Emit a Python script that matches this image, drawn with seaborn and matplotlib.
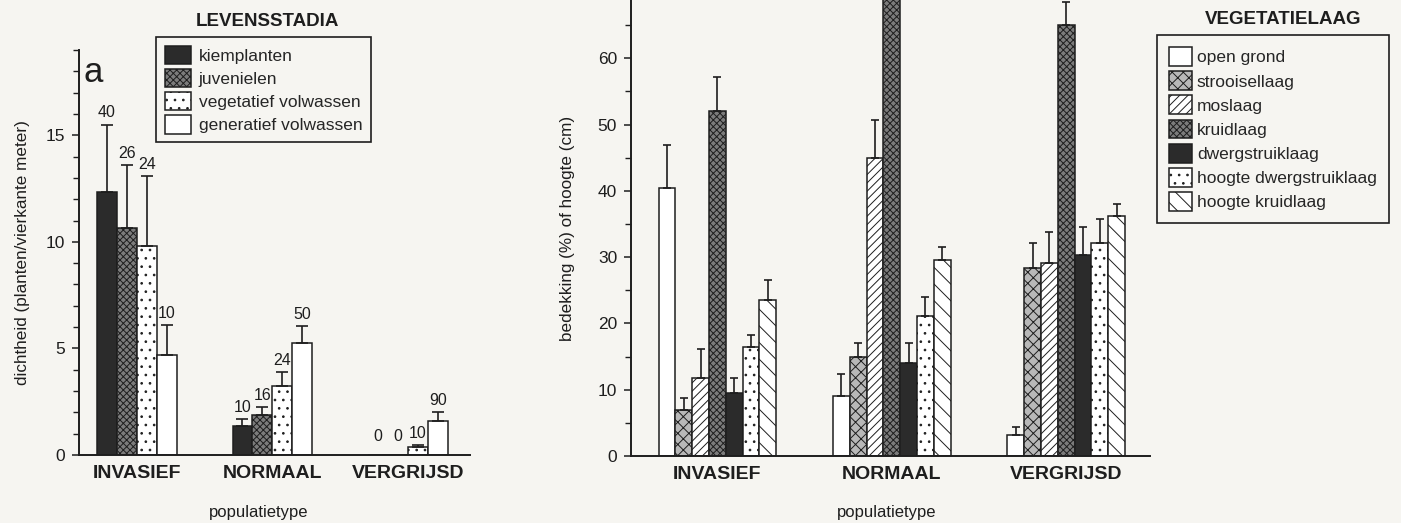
import numpy as np
import pandas as pd
import matplotlib
matplotlib.use("Agg")
import matplotlib.pyplot as plt
from matplotlib.ticker import MultipleLocator
import seaborn as sns

# ---------------- data ----------------
populaties = ["INVASIEF", "NORMAAL", "VERGRIJSD"]

# panel a: density per life stage
stadia = ["kiemplanten", "juvenielen", "vegetatief volwassen", "generatief volwassen"]
dichtheid = {
    "kiemplanten":          [12.35, 1.36, 0.0],
    "juvenielen":           [10.67, 1.88, 0.0],
    "vegetatief volwassen": [9.80, 3.25, 0.37],
    "generatief volwassen": [4.70, 5.27, 1.60],
}
dichtheid_se = {
    "kiemplanten":          [3.15, 0.34, 0.0],
    "juvenielen":           [2.93, 0.37, 0.0],
    "vegetatief volwassen": [3.30, 0.65, 0.08],
    "generatief volwassen": [1.40, 0.76, 0.40],
}
aantal_n = {
    "kiemplanten":          [40, 10, 0],
    "juvenielen":           [26, 16, 0],
    "vegetatief volwassen": [24, 24, 10],
    "generatief volwassen": [10, 50, 90],
}

# panel b: cover (%) or height (cm) per vegetation layer
lagen = ["open grond", "strooisellaag", "moslaag", "kruidlaag",
         "dwergstruiklaag", "hoogte dwergstruiklaag", "hoogte kruidlaag"]
bedekking = {
    "open grond":             [40.4, 9.1, 3.2],
    "strooisellaag":          [6.9, 15.0, 28.4],
    "moslaag":                [11.8, 44.9, 29.1],
    "kruidlaag":              [52.0, 78.0, 65.0],
    "dwergstruiklaag":        [9.5, 14.0, 30.4],
    "hoogte dwergstruiklaag": [16.5, 21.1, 32.1],
    "hoogte kruidlaag":       [23.5, 29.6, 36.2],
}
bedekking_se = {
    "open grond":             [6.5, 3.3, 1.2],
    "strooisellaag":          [1.8, 2.0, 3.7],
    "moslaag":                [4.4, 5.8, 4.7],
    "kruidlaag":              [5.2, 5.0, 3.5],
    "dwergstruiklaag":        [2.3, 3.0, 4.2],
    "hoogte dwergstruiklaag": [1.8, 2.9, 3.7],
    "hoogte kruidlaag":       [3.1, 2.0, 1.8],
}

# ---------------- styling ----------------
sns.set_style("ticks")
plt.rcParams["font.family"] = ["Liberation Sans", "DejaVu Sans"]
plt.rcParams["hatch.linewidth"] = 0.7
PAPER = "#f6f5f1"
INK = "#1e1e1e"

stadia_style = {
    "kiemplanten":          ("#2b2b2b", ""),
    "juvenielen":           ("#7c7c7c", "xxxxx"),
    "vegetatief volwassen": ("white", ".."),
    "generatief volwassen": ("white", ""),
}
lagen_style = {
    "open grond":             ("white", ""),
    "strooisellaag":          ("#b8b8b8", "xxx"),
    "moslaag":                ("white", "////"),
    "kruidlaag":              ("#7c7c7c", "xxxxx"),
    "dwergstruiklaag":        ("#2b2b2b", ""),
    "hoogte dwergstruiklaag": ("white", ".."),
    "hoogte kruidlaag":       ("white", "\\\\"),
}


def long_table(values, errors, order):
    rows = []
    for name in order:
        for pop, v, e in zip(populaties, values[name], errors[name]):
            rows.append({"populatietype": pop, "groep": name, "waarde": v, "se": e})
    return pd.DataFrame(rows)


def draw_panel(ax, df, order, style, width, capsize):
    sns.barplot(data=df, x="populatietype", y="waarde", hue="groep",
                order=populaties, hue_order=order,
                palette={k: style[k][0] for k in order},
                width=width, edgecolor=INK, linewidth=1.1,
                errorbar=None, legend=False, saturation=1, ax=ax)
    for name, cont in zip(order, ax.containers):
        face, hatch = style[name]
        sub = df[df["groep"] == name]
        xs, ys, es = [], [], []
        for patch, v, e in zip(cont.patches, sub["waarde"], sub["se"]):
            patch.set_facecolor(face)
            patch.set_hatch(hatch)
            patch.set_edgecolor(INK)
            if e > 0:
                xs.append(patch.get_x() + patch.get_width() / 2)
                ys.append(v)
                es.append(e)
        if xs:
            ax.errorbar(xs, ys, yerr=[np.zeros(len(es)), es], fmt="none",
                        ecolor=INK, elinewidth=1.2, capsize=capsize,
                        capthick=1.2, zorder=1)
    ax.set_facecolor("none")
    sns.despine(ax=ax)
    for side in ("left", "bottom"):
        ax.spines[side].set_linewidth(1.4)
        ax.spines[side].set_color(INK)
    ax.tick_params(axis="x", length=0, pad=7, labelsize=14)
    for lab in ax.get_xticklabels():
        lab.set_fontweight("bold")
        lab.set_color(INK)
    ax.tick_params(axis="y", which="major", length=5, width=1.1,
                   labelsize=12.5, colors=INK, pad=5)
    ax.tick_params(axis="y", which="minor", length=4, width=1.0, colors=INK)


fig = plt.figure(figsize=(14.01, 5.23), dpi=100, facecolor=PAPER)
W, H = 1401, 523

# ---------- panel a ----------
axa = fig.add_axes([79 / W, (H - 455) / H, (470 - 79) / W, (455 - 50) / H])
df_a = long_table(dichtheid, dichtheid_se, stadia)
draw_panel(axa, df_a, stadia, stadia_style, 0.59, 4.3)
axa.set_ylim(0, 19)
axa.set_xlim(-0.428, 2.458)
axa.yaxis.set_major_locator(MultipleLocator(5))
axa.yaxis.set_minor_locator(MultipleLocator(1))
axa.set_ylabel("dichtheid (planten/vierkante meter)", fontsize=12.3, color=INK)
axa.set_xlabel("populatietype", fontsize=12, color=INK)
axa.yaxis.set_label_coords(-0.125, 0.5)
axa.xaxis.set_label_coords(0.46, -0.123)

# sample sizes above the bars
for name, cont in zip(stadia, axa.containers):
    for patch, v, e, n in zip(cont.patches, dichtheid[name], dichtheid_se[name], aantal_n[name]):
        axa.annotate(str(n), (patch.get_x() + patch.get_width() / 2, v + e),
                     xytext=(0, 3 if v + e > 0 else 8), textcoords="offset points",
                     ha="center", va="bottom", fontsize=11.5, color=INK)

axa.text(0.012, 0.985, "a", transform=axa.transAxes, ha="left", va="top",
         fontsize=25, color=INK)

leg_a = axa.legend(axa.containers, stadia, loc="upper left",
                   bbox_to_anchor=(156 / W, 1 - 37 / H), bbox_transform=fig.transFigure,
                   borderaxespad=0, fontsize=12.5, frameon=True, fancybox=False,
                   edgecolor=INK, framealpha=1, facecolor=PAPER,
                   handlelength=1.5, handleheight=1.25, handletextpad=0.45,
                   labelspacing=0.28, borderpad=0.5)
leg_a.get_frame().set_linewidth(1.2)
fig.text(267 / W, 1 - 22 / H, "LEVENSSTADIA", ha="center", va="center",
         fontsize=13.5, fontweight="bold", color=INK)

# ---------- panel b ----------
axb = fig.add_axes([631 / W, (H - 456) / H, (1150 - 631) / W, 456 / H])
df_b = long_table(bedekking, bedekking_se, lagen)
draw_panel(axb, df_b, lagen, lagen_style, 0.675, 3.2)
axb.set_ylim(0, 68.8)
axb.set_xlim(-0.496, 2.481)
axb.yaxis.set_major_locator(MultipleLocator(10))
axb.yaxis.set_minor_locator(MultipleLocator(5))
axb.set_ylabel("bedekking (%) of hoogte (cm)", fontsize=12.3, color=INK)
axb.set_xlabel("populatietype", fontsize=12, color=INK)
axb.yaxis.set_label_coords(-0.108, 0.5)
axb.xaxis.set_label_coords(0.493, -0.107)

leg_b = axb.legend(axb.containers, lagen, loc="upper left",
                   bbox_to_anchor=(1157 / W, 1 - 35 / H), bbox_transform=fig.transFigure,
                   borderaxespad=0, fontsize=12.5, frameon=True, fancybox=False,
                   edgecolor=INK, framealpha=1, facecolor=PAPER,
                   handlelength=1.3, handleheight=1.3, handletextpad=0.3,
                   labelspacing=0.3, borderpad=0.7)
leg_b.get_frame().set_linewidth(1.2)
fig.text(1283 / W, 1 - 20 / H, "VEGETATIELAAG", ha="center", va="center",
         fontsize=13.5, fontweight="bold", color=INK)

fig.savefig("out.png", dpi=100, facecolor=PAPER)
